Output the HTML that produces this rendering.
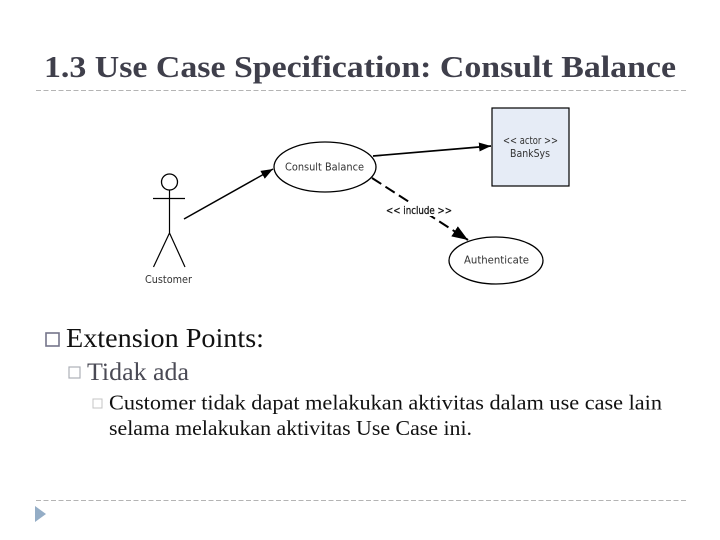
<!DOCTYPE html>
<html>
<head>
<meta charset="utf-8">
<style>
html,body{margin:0;padding:0;background:#fff;width:720px;height:540px;overflow:hidden}
svg{display:block}
.s{font-family:"Liberation Serif",serif}
.d{font-family:"DejaVu Sans","Liberation Sans",sans-serif;font-size:10.500px;fill:#333}
</style>
</head>
<body>
<svg width="720" height="540" viewBox="0 0 720 540" xmlns="http://www.w3.org/2000/svg">
<defs>
<marker id="a" markerWidth="14" markerHeight="10" refX="12" refY="4.500" orient="auto" markerUnits="userSpaceOnUse"><path d="M0 0L12 4.500L0 9z" fill="#000"/></marker>
<marker id="b" markerWidth="18" markerHeight="14" refX="16" refY="6" orient="auto" markerUnits="userSpaceOnUse"><path d="M0 0L16 6L0 12z" fill="#000"/></marker>
</defs>
<text class="s" x="44" y="77" font-size="31" font-weight="bold" fill="#3f3f4b" textLength="632" lengthAdjust="spacingAndGlyphs">1.3 Use Case Specification: Consult Balance</text>
<line x1="36" y1="90.500" x2="686" y2="90.500" stroke="#b4b4b4" stroke-dasharray="5 2.500"/>
<line x1="36" y1="500.500" x2="686" y2="500.500" stroke="#b4b4b4" stroke-dasharray="5 2.500"/>
<path d="M35 506L46 514L35 522z" fill="#94adc6"/>

<rect x="492" y="108" width="77" height="78" fill="#e6ecf6" stroke="#000" stroke-width="1.200"/>
<ellipse cx="325" cy="167" rx="51" ry="25" fill="#fff" stroke="#000" stroke-width="1.300"/>
<ellipse cx="496" cy="260.500" rx="47" ry="23.500" fill="#fff" stroke="#000" stroke-width="1.300"/>
<circle cx="169.500" cy="182" r="8" fill="#fff" stroke="#000" stroke-width="1.300"/>
<path d="M153 198.500H185M169.500 190V233M169.500 233L153.500 267M169.500 233L185 267" fill="none" stroke="#000" stroke-width="1.200"/>
<line x1="184" y1="219" x2="273" y2="169" stroke="#000" stroke-width="1.500" marker-end="url(#a)"/>
<line x1="373" y1="156" x2="491" y2="146" stroke="#000" stroke-width="1.700" marker-end="url(#a)"/>
<line x1="372" y1="178" x2="468" y2="240" stroke="#000" stroke-width="2" stroke-dasharray="11 5" marker-end="url(#b)"/>
<rect x="384" y="203" width="70" height="13" fill="#fff"/>

<text class="d" x="285" y="170.500" textLength="79" lengthAdjust="spacingAndGlyphs">Consult Balance</text>
<text class="d" x="464" y="263.500" textLength="65" lengthAdjust="spacingAndGlyphs">Authenticate</text>
<text class="d" x="503" y="144" textLength="55" lengthAdjust="spacingAndGlyphs">&lt;&lt; actor &gt;&gt;</text>
<text class="d" x="510" y="157" textLength="40" lengthAdjust="spacingAndGlyphs">BankSys</text>
<text class="d" x="145" y="283" textLength="47" lengthAdjust="spacingAndGlyphs">Customer</text>
<text class="d" x="386" y="214" textLength="66" lengthAdjust="spacingAndGlyphs" style="fill:#111;stroke:#111;stroke-width:.25px">&lt;&lt; include &gt;&gt;</text>

<rect x="46" y="333" width="13" height="13" fill="none" stroke="#74748a" stroke-width="1.600"/>
<text class="s" x="66" y="347" font-size="27" fill="#111" textLength="198" lengthAdjust="spacingAndGlyphs">Extension Points:</text>
<rect x="69" y="367" width="11" height="11" fill="none" stroke="#adb0b8" stroke-width="1.200"/>
<text class="s" x="87" y="380" font-size="25" fill="#4a4a55" textLength="102" lengthAdjust="spacingAndGlyphs">Tidak ada</text>
<rect x="93" y="399" width="9" height="9" fill="none" stroke="#c4c4c4" stroke-width="1"/>
<text class="s" x="109" y="409.500" font-size="21" fill="#111" textLength="553" lengthAdjust="spacingAndGlyphs">Customer tidak dapat melakukan aktivitas dalam use case lain</text>
<text class="s" x="109" y="435" font-size="21" fill="#111" textLength="363" lengthAdjust="spacingAndGlyphs">selama melakukan aktivitas Use Case ini.</text>
</svg>
</body>
</html>
